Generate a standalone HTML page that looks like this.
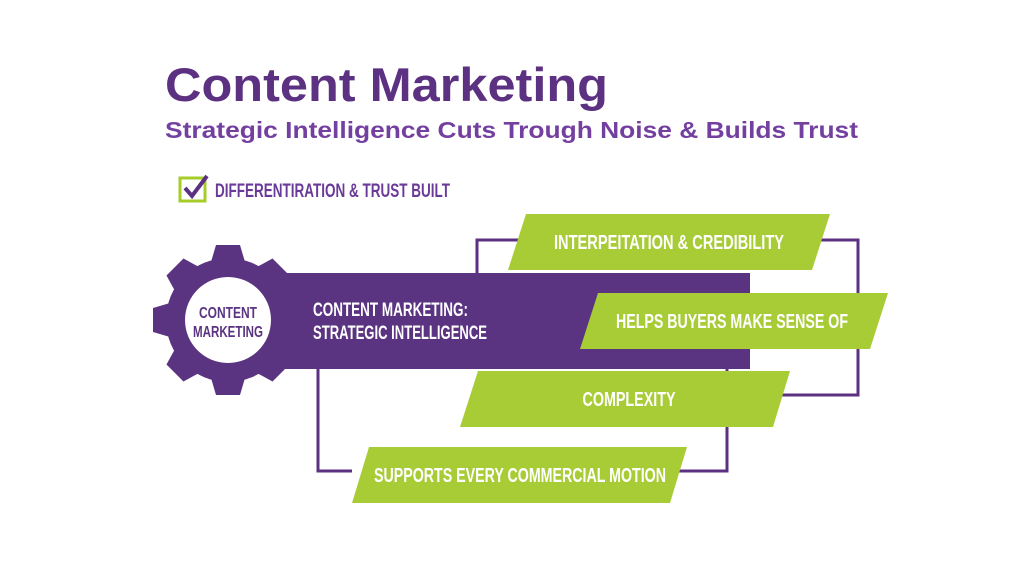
<!DOCTYPE html>
<html><head><style>
html,body{margin:0;padding:0;background:#fff}
svg{display:block}
.n{font-family:"Liberation Sans Narrow","Liberation Sans",sans-serif;font-weight:bold}
</style></head><body>
<svg width="1024" height="576" viewBox="0 0 1024 576" xmlns="http://www.w3.org/2000/svg">
<text x="165" y="101" font-family="Liberation Sans,sans-serif" font-weight="bold" font-size="47" fill="#5c3181" textLength="443" lengthAdjust="spacingAndGlyphs">Content Marketing</text>
<text x="165" y="138" font-family="Liberation Sans,sans-serif" font-weight="bold" font-size="23" fill="#7440a0" textLength="693" lengthAdjust="spacingAndGlyphs">Strategic Intelligence Cuts Trough Noise &amp; Builds Trust</text>
<rect x="180" y="178" width="25" height="23" fill="none" stroke="#a6cc2a" stroke-width="3"/>
<path d="M185 188 L192 196 L207 176" fill="none" stroke="#5c3181" stroke-width="4"/>
<text x="215" y="197" class="n" font-size="19" fill="#6a3a98" textLength="235" lengthAdjust="spacingAndGlyphs">DIFFERENTIRATION &amp; TRUST BUILT</text>
<g fill="none" stroke="#5c3181" stroke-width="3">
<polyline points="477,273 477,240 858,240 858,395 773,395"/>
<polyline points="318,369 318,471 352,471"/>
<polyline points="727,369 727,471 670,471"/>
</g>
<rect x="262" y="273" width="488" height="96" fill="#5a3381"/>
<g transform="translate(228,320)" fill="#5a3381">
<g id="t"><polygon points="-17,-58 -12,-75 12,-75 17,-58"/></g>
<use href="#t" transform="rotate(45)"/><use href="#t" transform="rotate(90)"/><use href="#t" transform="rotate(135)"/>
<use href="#t" transform="rotate(180)"/><use href="#t" transform="rotate(225)"/><use href="#t" transform="rotate(270)"/><use href="#t" transform="rotate(315)"/>
<circle r="62"/>
<circle r="43" fill="#fff"/>
</g>
<text x="228" y="318" text-anchor="middle" class="n" font-size="16" fill="#5a3381" textLength="58" lengthAdjust="spacingAndGlyphs">CONTENT</text>
<text x="228" y="337" text-anchor="middle" class="n" font-size="16" fill="#5a3381" textLength="70" lengthAdjust="spacingAndGlyphs">MARKETING</text>
<text x="313" y="316" class="n" font-size="19" fill="#fff" textLength="155" lengthAdjust="spacingAndGlyphs">CONTENT MARKETING:</text>
<text x="313" y="339" class="n" font-size="19" fill="#fff" textLength="174" lengthAdjust="spacingAndGlyphs">STRATEGIC INTELLIGENCE</text>
<g fill="#a8cc36">
<polygon points="526,214 830,214 812,270 508,270"/>
<polygon points="598,293 888,293 870,349 580,349"/>
<polygon points="478,371 790,371 773,427 460,427"/>
<polygon points="369,447 687,447 670,503 352,503"/>
</g>
<g class="n" font-size="20" fill="#fff" text-anchor="middle">
<text x="669" y="249" textLength="230" lengthAdjust="spacingAndGlyphs">INTERPEITATION &amp; CREDIBILITY</text>
<text x="732" y="328" textLength="232" lengthAdjust="spacingAndGlyphs">HELPS BUYERS MAKE SENSE OF</text>
<text x="629" y="406" textLength="93" lengthAdjust="spacingAndGlyphs">COMPLEXITY</text>
<text x="520" y="482" textLength="292" lengthAdjust="spacingAndGlyphs">SUPPORTS EVERY COMMERCIAL MOTION</text>
</g>
</svg>
</body></html>
